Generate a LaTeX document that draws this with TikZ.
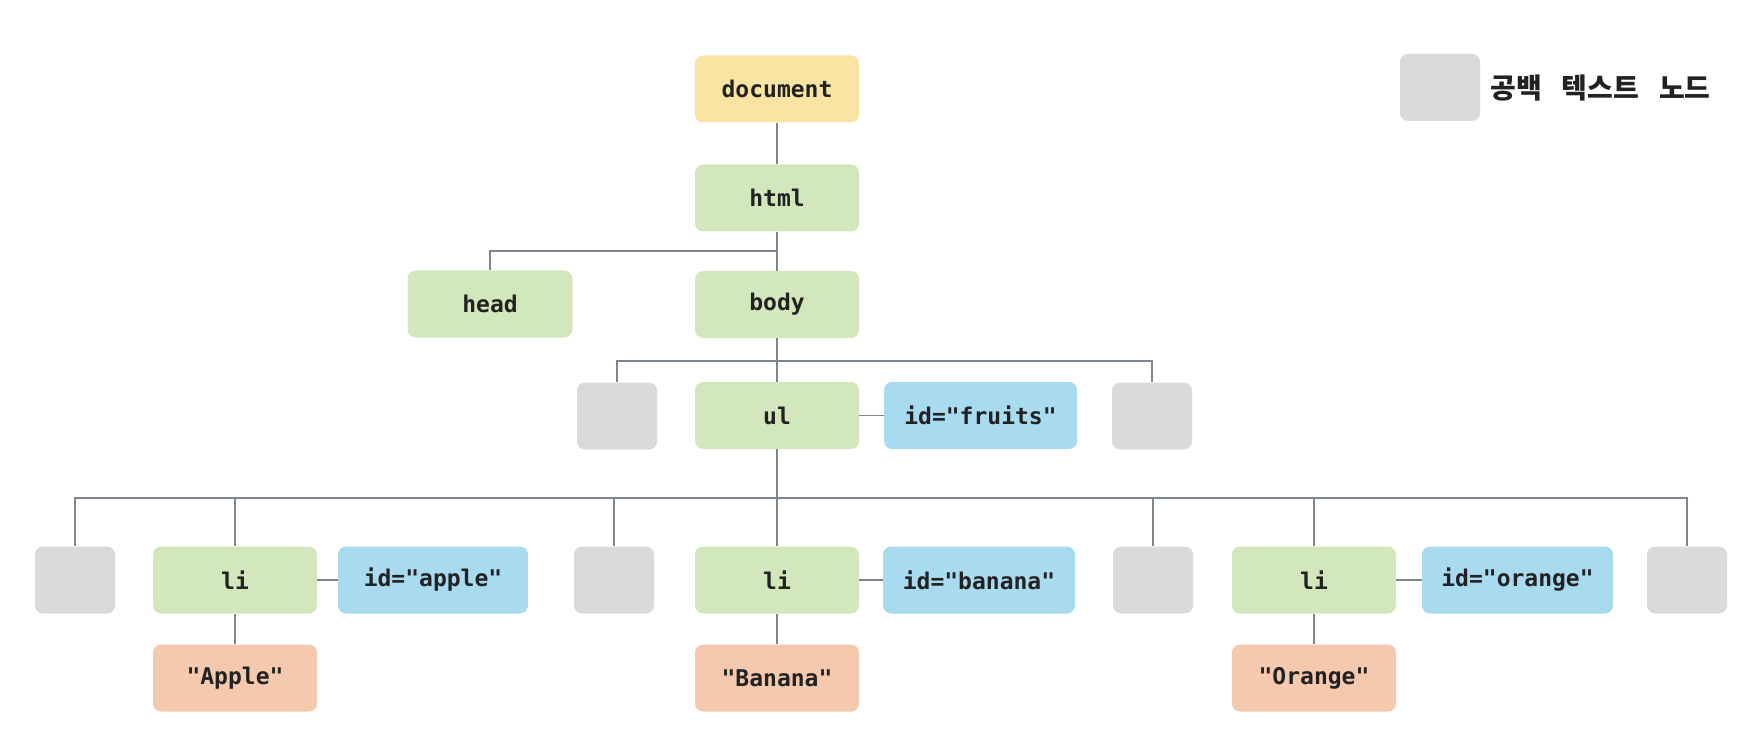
\documentclass[tikz,border=0pt]{standalone}
\usepackage{fontspec}
\setmonofont{DejaVu Sans Mono}
\newfontfamily\kr{Noto Sans CJK KR}
\definecolor{cyel}{RGB}{249,228,164}
\definecolor{cgrn}{RGB}{210,232,188}
\definecolor{cblu}{RGB}{168,218,240}
\definecolor{cpch}{RGB}{244,201,174}
\definecolor{cgry}{RGB}{218,218,218}
\definecolor{cline}{RGB}{125,133,145}
\definecolor{ctxt}{RGB}{34,34,34}
\begin{document}
\begin{tikzpicture}[x=0.5pt,y=-0.5pt,
  box/.style={rounded corners=4pt, inner sep=0pt, minimum height=33.5pt,
    font=\ttfamily\bfseries\fontsize{11.5}{13}\selectfont, text=ctxt},
  elem/.style={box, fill=cgrn, minimum width=82pt},
  docb/.style={box, fill=cyel, minimum width=82pt},
  attr/.style={box, fill=cblu, minimum width=96pt},
  txtb/.style={box, fill=cpch, minimum width=82pt},
  wsp/.style={box, fill=cgry, minimum width=40pt},
  conn/.style={draw=cline, line width=0.75pt}]
\useasboundingbox (0,0) rectangle (1748,732);
% nodes
\node[docb] (document) at (777,89) {document};
\node[elem] (html) at (777,198) {html};
\node[elem, minimum width=82.5pt] (head) at (490,304) {head};
\node[elem] (body) at (777,304.5) {body};
\node[wsp] (gw1) at (617,416) {};
\node[elem] (ul) at (777,415.5) {ul};
\node[attr, minimum width=96.5pt] (idf) at (980.5,415.5) {id="fruits"};
\node[wsp] (gw2) at (1152,416) {};
\node[wsp] (g1) at (75,580) {};
\node[elem] (li1) at (235,580) {li};
\node[attr, minimum width=95pt] (ida) at (433,580) {id="apple"};
\node[txtb] (t1) at (235,678) {"Apple"};
\node[wsp] (g2) at (614,580) {};
\node[elem] (li2) at (777,580) {li};
\node[attr] (idb) at (979,580) {id="banana"};
\node[txtb] (t2) at (777,678) {"Banana"};
\node[wsp] (g3) at (1153,580) {};
\node[elem] (li3) at (1314,580) {li};
\node[attr, minimum width=95.5pt] (ido) at (1517.5,580) {id="orange"};
\node[txtb] (t3) at (1314,678) {"Orange"};
\node[wsp] (g4) at (1687,580) {};
% legend
\node[wsp] (lg) at (1440,87.5) {};
\node[anchor=west, inner sep=0pt, text=ctxt, font=\kr\bfseries\fontsize{14}{16}\selectfont] (lgt) at (1490,88) {공백\hspace{10pt}텍스트\hspace{10pt}노드};
% junctions
\coordinate (jh) at (777,251);
\coordinate (jb) at (777,361);
\coordinate (ju) at (777,498);
% connectors
\draw[conn] (document) -- (html);
\draw[conn] (html) -- (body);
\draw[conn] (head.north) |- (jh);
\draw[conn] (body) -- (ul);
\draw[conn] (gw1.north) |- (jb);
\draw[conn] (gw2.north) |- (jb);
\draw[conn] (ul) -- (idf);
\draw[conn] (ul) -- (li2);
\draw[conn] (g1.north) |- (ju);
\draw[conn] (li1.north) |- (ju);
\draw[conn] (g2.north) |- (ju);
\draw[conn] (g3.north) |- (ju);
\draw[conn] (li3.north) |- (ju);
\draw[conn] (g4.north) |- (ju);
\draw[conn] (li1) -- (ida);
\draw[conn] (li2) -- (idb);
\draw[conn] (li3) -- (ido);
\draw[conn] (li1) -- (t1);
\draw[conn] (li2) -- (t2);
\draw[conn] (li3) -- (t3);
\end{tikzpicture}
\end{document}
